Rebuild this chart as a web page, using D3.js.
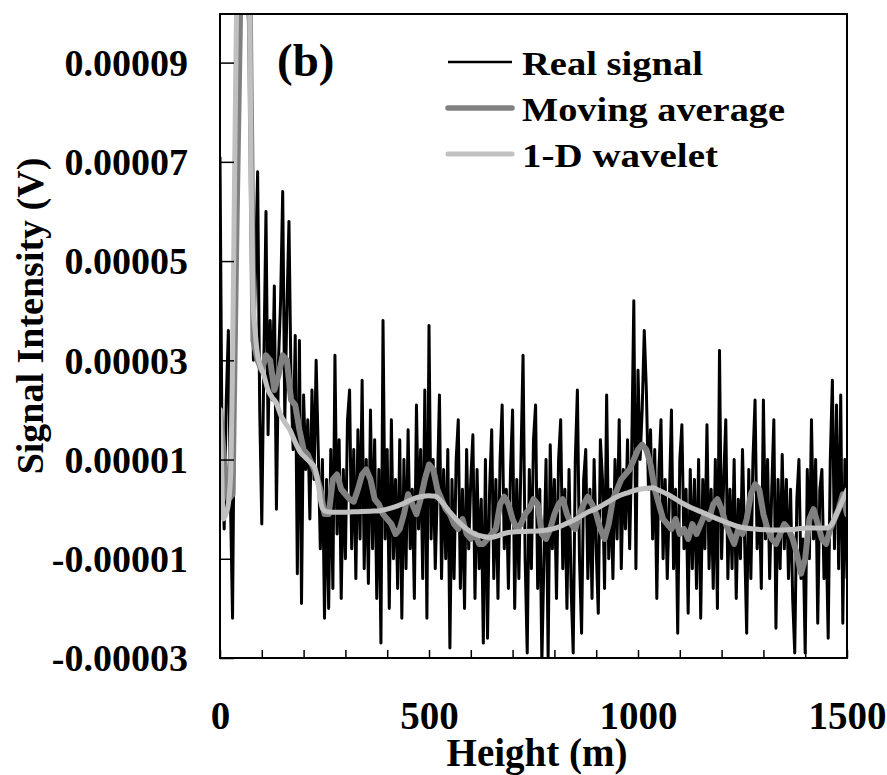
<!DOCTYPE html>
<html>
<head>
<meta charset="utf-8">
<script src="https://cdn.jsdelivr.net/npm/d3@7"></script>
<style>
  html, body { margin: 0; padding: 0; background: #fff; }
  svg { display: block; }
  text { font-family: "Liberation Serif", "Times New Roman", Times, serif; font-weight: bold; fill: #000; }
</style>
</head>
<body>
<svg id="chart" width="887" height="775"></svg>
<script>
// ---------------- DATA (values in microvolts, heights in metres) ----------------
const signalStep = 5; // metres between samples of the real signal
const realSignal = [
  71, 10, -4, 22, 36, 2, -22, 30, 90, 110,
  112, 110, 108, 104, 95, 60, 30, 48, 68, 20,
  -3, 30, 60, 15, 38, 22, 45, 0, 30, 42,
  64, 18, 40, 58, 25, 12, 35, -13, 34, -19,
  23, 8, 18, -2, 24, 6, 30, 12, -8, 10,
  -22, 6, -20, 12, -16, 31, -5, 14, -18, 8,
  -10, 18, 24, -8, 12, -14, 16, -6, 26, -12,
  10, -15, 20, -8, 14, -18, 8, -27, 38, -6,
  12, -20, 18, -10, 6, -16, 14, -22, 10, -12,
  16, -8, 4, -18, 21, -4, 12, -14, 24, -22,
  37, -6, 10, -12, 4, 23, -14, 8, -10, 12,
  -28, 6, -14, 10, 18, -16, 4, -20, 12, -8,
  6, 15, -18, 8, -12, 2, -27, 10, -26, 4,
  16, -14, 6, -18, 10, 21, -8, 4, -16, 8,
  20, -20, 6, -14, 10, 31, -10, -29, 8, -12,
  14, 21, -16, 4, -31, -10, 10, -30, 13, -8,
  6, -18, 10, 18, -12, 4, -20, 8, -16, -29,
  10, 24, -10, -25, 6, 12, -14, 4, -18, 10,
  -8, -21, 14, 6, -16, 23, -10, 4, -14, 10,
  -6, 18, -12, 8, -4, 14, -8, 12, 42, -12,
  28, 10, 20, 36, 24, 4, 16, -6, 12, -18,
  8, 18, -10, 6, -14, 2, 20, -12, 4, -25,
  10, 17, -8, 4, -21, 8, -12, 6, -16, 10,
  -22, 6, -8, 17, -12, 4, -16, 10, -20, 32,
  -10, 6, 18, -14, 4, -12, 10, -18, 2, -10,
  12, -6, -25, 8, -14, 10, 22, -8, 4, -16,
  22, -6, 10, -14, 4, 18, -24, 6, -12, 11,
  -8, 6, -14, 4, -18, -29, 2, 10, -14, -6,
  -29, 8, -10, 18, -6, 10, -23, 4, 8, -14,
  -4, -26, 10, 26, -8, 21, -12, 23, -23, 10,
  -14
];

const avgStep = 10; // metres between samples of the moving average
const movingAverage = [
  20, 10, 2, 3, 60, 110, 115, 110, 34, 30,
  28, 31, 30, 24, 27, 31, 30, 22, 21, 16,
  12, 11, 9, 7, 4, -1, -1, 6, 7, 4,
  3, 2, 1.5, 4, 7, 8, 6, 2, 1, -1,
  -2, -3, -5, -4, -1, 3, 1, -1, 2, 6,
  9, 8, 4, 2, 0, -1, -3, -4, -2, -5,
  -6, -5, -7, -7, -6, -5, -4, 1, 2.5, 1,
  -2, -4, -3, -1, 0, 2, 1, -5, -6, -4,
  -1, 1, 2, -1, -3, -4, -1, 1, 2.5, 1,
  -1, -4, -6, -3, 2, 4, 6, 7, 8, 10,
  12, 13, 12, 9, 4, 1, -2, -3, -4, -2,
  -5, -4, -6, -3, -5, -3, -1, -2, 1, 2,
  0, -3, -5, -7, -4, -5, -2, 3, 5, 4,
  -1, -4, -6, -7, -5, -3, -4, -6, -9, -13,
  -10, -2, 0, -3, -6, -7, -4, -2, 0, 3,
  -1
];

const waveletHeight = [0, 4, 8, 14, 20, 26, 30, 34, 38, 42, 50, 60, 70, 74, 79, 84, 90, 96, 105, 115,
  125, 134, 145, 155, 167, 180, 192, 203, 215, 227, 235, 240, 246, 255, 270, 300, 330, 360, 383, 400,
  420, 440, 460, 480, 500, 515, 530, 550, 570, 590, 610, 630, 646, 660, 680, 700, 730, 760, 782, 810,
  837, 860, 880, 902, 925, 950, 975, 998, 1020, 1036, 1050, 1075, 1100, 1125, 1150, 1180, 1210, 1244, 1280, 1316,
  1350, 1380, 1404, 1430, 1452, 1465, 1476, 1488, 1500];
const waveletValue = [20, 8, -2, -1, 1, 8, 30, 60, 90, 110, 115, 115, 110, 70, 42, 36, 31, 29, 27, 24,
  22.5, 21.5, 19, 17.5, 16, 13.5, 11.5, 10.5, 9.5, 8.3, 5, 2, 0, -0.5, -0.6, -0.6, -0.5, -0.4, -0.3, 0,
  0.5, 1.2, 2.0, 2.5, 2.7, 2.6, 1.5, -0.6, -2.5, -4, -5, -5.5, -5.7, -5.5, -4.9, -4.6, -4.5, -4.4, -4.2, -3.6,
  -2.6, -1.6, -0.6, 0.2, 1.3, 2.5, 3.3, 3.9, 4.2, 4.3, 3.8, 2.8, 1.5, 0.4, -0.5, -1.6, -2.6, -3.6, -4.0, -4.2,
  -4.2, -4.0, -3.8, -3.8, -3.8, -2.8, -0.8, 1.5, 3.9];

const yTickValues = [-30, -10, 10, 30, 50, 70, 90];   // microvolts
const xTickLabels = [0, 500, 1000, 1500];
const xMinorTicks = d3.range(0, 1501, 100);

const legendLabels = ["Real signal", "Moving average", "1-D wavelet"];
const legendColors = ["#000000", "#808080", "#c0c0c0"];
const legendWidths = [2.5, 5.5, 5];
const legendTextLen = [181, 263, 196];

// ---------------- CHART ----------------
const svg = d3.select("#chart");
const L = 220, R = 847, T = 14, B = 658;

const x = d3.scaleLinear().domain([0, 1500]).range([L, R]);
const y = d3.scaleLinear().domain([-30, 100]).range([658, 13]);

svg.append("defs").append("clipPath").attr("id", "plotclip")
  .append("rect").attr("x", L).attr("y", T).attr("width", R - L).attr("height", B - T);

const plot = svg.append("g").attr("clip-path", "url(#plotclip)");

const sigData = realSignal.map((v, i) => [i * signalStep, v]);
const avgData = movingAverage.map((v, i) => [i * avgStep, v]);
const wavData = waveletHeight.map((h, i) => [h, waveletValue[i]]);

const line = d3.line().x(d => x(d[0])).y(d => y(d[1]));

plot.append("path").datum(sigData)
  .attr("d", line)
  .attr("fill", "none").attr("stroke", "#000").attr("stroke-width", 3)
  .attr("stroke-linejoin", "round");

plot.append("path").datum(avgData)
  .attr("d", line)
  .attr("fill", "none").attr("stroke", "#808080").attr("stroke-width", 6)
  .attr("stroke-linejoin", "round").attr("stroke-linecap", "round");

plot.append("path").datum(wavData)
  .attr("d", d3.line().x(d => x(d[0])).y(d => y(d[1])).curve(d3.curveMonotoneX))
  .attr("fill", "none").attr("stroke", "#c0c0c0").attr("stroke-width", 5)
  .attr("stroke-linejoin", "round").attr("stroke-linecap", "round");

// frame
svg.append("rect").attr("x", L).attr("y", T).attr("width", R - L).attr("height", B - T)
  .attr("fill", "none").attr("stroke", "#000").attr("stroke-width", 2);

// y ticks (inward) and labels
const yAxis = d3.axisLeft(y).tickValues(yTickValues).tickSizeInner(-14).tickSizeOuter(0)
  .tickPadding(32).tickFormat(d => (d * 1e-6).toFixed(5));
const gy = svg.append("g").attr("transform", `translate(${L},0)`).call(yAxis);
gy.select(".domain").remove();
gy.selectAll(".tick line").attr("stroke", "#000").attr("stroke-width", 1.5);
gy.selectAll(".tick text").attr("font-size", 38).attr("font-family", "Liberation Serif")
  .attr("font-weight", "bold").attr("dy", "0.34em");

// x ticks (inward, every 100 m)
const xAxisMinor = d3.axisBottom(x).tickValues(xMinorTicks).tickSizeInner(-8).tickSizeOuter(0).tickFormat("");
const gx = svg.append("g").attr("transform", `translate(0,${B})`).call(xAxisMinor);
gx.select(".domain").remove();
gx.selectAll(".tick line").attr("stroke", "#000").attr("stroke-width", 1.5);

// x labels
const xAxisLabels = d3.axisBottom(x).tickValues(xTickLabels).tickSize(0).tickPadding(0).tickFormat(d3.format("d"));
const gxl = svg.append("g").attr("transform", `translate(0,${B})`).call(xAxisLabels);
gxl.select(".domain").remove();
gxl.selectAll(".tick text").attr("font-size", 39).attr("font-family", "Liberation Serif")
  .attr("font-weight", "bold").attr("y", 71).attr("dy", 0);

// axis titles
svg.append("text").attr("x", 537).attr("y", 766).attr("text-anchor", "middle")
  .attr("font-size", 39).text("Height (m)");
svg.append("text").attr("transform", "translate(43,316) rotate(-90)").attr("text-anchor", "middle")
  .attr("font-size", 38).text("Signal Intensity (V)");

// panel label
svg.append("text").attr("x", 277).attr("y", 76).attr("font-size", 47).text("(b)");

// legend
const legY = [62, 108, 154];
const leg = svg.append("g");
legendLabels.forEach((lab, i) => {
  leg.append("line").attr("x1", 448).attr("x2", 512).attr("y1", legY[i]).attr("y2", legY[i])
    .attr("stroke", legendColors[i]).attr("stroke-width", legendWidths[i])
    .attr("stroke-linecap", i === 0 ? "butt" : "round");
  leg.append("text").attr("x", 522).attr("y", legY[i] + 13).attr("font-size", 34)
    .attr("textLength", legendTextLen[i]).attr("lengthAdjust", "spacingAndGlyphs").text(lab);
});
</script>
</body>
</html>
